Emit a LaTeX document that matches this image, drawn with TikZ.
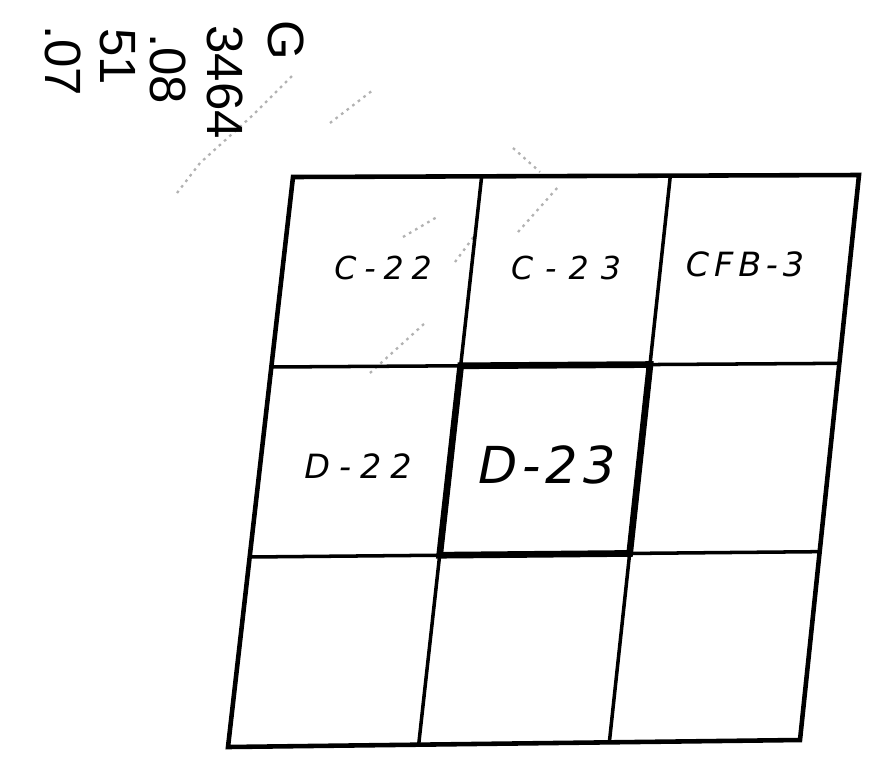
\documentclass[tikz,border=0pt]{standalone}
\usepackage{fontspec}
\setmainfont{Liberation Sans}
\newfontfamily\lettering{DejaVu Sans}
\usetikzlibrary{calc}

\begin{document}
\begin{tikzpicture}[
  outer/.style={line width=2.6pt,line join=miter},
  inner/.style={line width=2pt},
  heavy/.style={line width=3.8pt,line join=miter},
  sheet/.style 2 args={font=\fontsize{#1}{#1}\selectfont\lettering\itshape\addfontfeature{LetterSpace=#2},inner sep=0pt},
  hand/.style={font=\fontsize{29}{29}\selectfont,rotate=-90,anchor=base west,inner sep=0pt},
  smudge/.style={gray!60,dash pattern=on 1.5pt off 2.5pt,line width=1.3pt}
]
\useasboundingbox (0,0) rectangle (17.84,-15.18);
% corners of the index grid
\coordinate (tl) at (5.86,-3.54);
\coordinate (tr) at (17.18,-3.50);
\coordinate (bl) at (4.56,-14.94);
\coordinate (br) at (16.00,-14.80);
\foreach \i in {0,...,3}{
  \coordinate (t\i) at ($(tl)!\i/3!(tr)$);
  \coordinate (b\i) at ($(bl)!\i/3!(br)$);
}
\foreach \i in {0,...,3}
  \foreach \j in {0,...,3}
    \coordinate (g\i\j) at ($(t\i)!\j/3!(b\i)$);

% faint erased marks
\draw[smudge] (3.54,-3.86) -- (4.00,-3.26) -- (5.06,-2.30) -- (5.86,-1.50);
\draw[smudge] (6.60,-2.46) -- (7.46,-1.80);
\draw[smudge] (10.26,-2.96) -- (10.80,-3.44);
\draw[smudge] (10.36,-4.64) -- (11.16,-3.74);
\draw[smudge] (8.06,-4.74) -- (8.74,-4.34);
\draw[smudge] (9.10,-5.24) -- (9.50,-4.70);
\draw[smudge] (7.40,-7.46) -- (8.50,-6.46);

% grid
\foreach \i in {1,2}{
  \draw[inner] (t\i) -- (b\i);
  \draw[inner] (g0\i) -- (g3\i);
}
\draw[heavy] (g11) -- (g21) -- (g22) -- (g12) -- cycle;
\draw[outer] (tl) -- (tr) -- (br) -- (bl) -- cycle;

% sheet labels
\node[sheet={18}{25}] (c22) at (7.66,-5.36) {C-22};
\node[sheet={18}{38}] (c23) at (11.32,-5.36) {C-23};
\node[sheet={19}{15}] (cfb3) at (14.90,-5.28) {CFB-3};
\node[sheet={19}{27}] (d22) at (7.16,-9.32) {D-22};
\node[sheet={29}{10}] (d23) at (10.94,-9.30) {D-23};

% pencil notes
\node[hand] (n1) at (5.36,-0.40) {G};
\node[hand] (n2) at (4.14,-0.50) {3464};
\node[hand] (n3) at (3.00,-0.66) {.08};
\node[hand] (n4) at (2.00,-0.56) {51};
\node[hand] (n5) at (0.90,-0.50) {.07};
\end{tikzpicture}
\end{document}
